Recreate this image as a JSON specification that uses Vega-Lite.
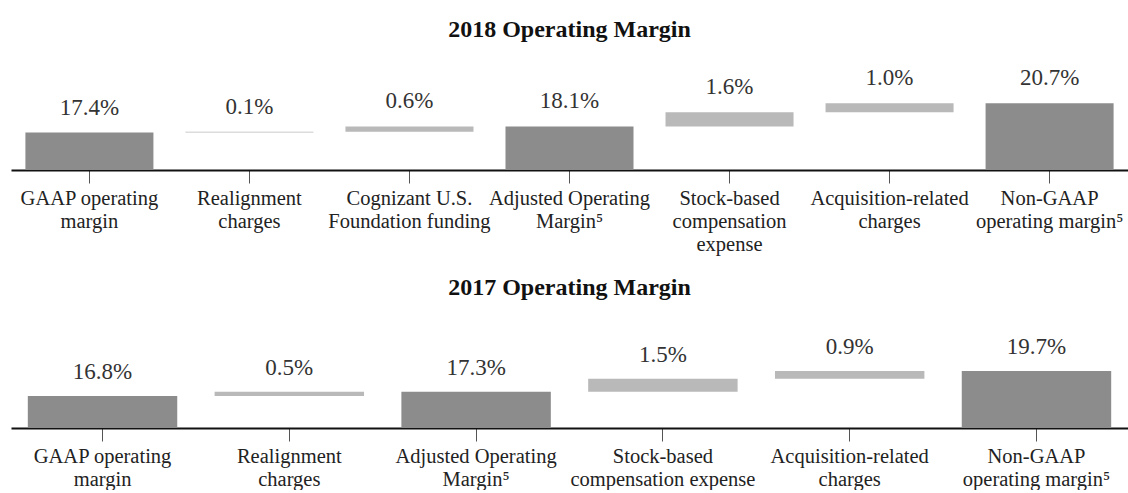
{
  "$schema": "https://vega.github.io/schema/vega-lite/v6.json",
  "padding": {"left": 11, "top": 18, "right": 0, "bottom": 0},
  "autosize": {"type": "pad"},
  "background": "white",
  "bounds": "flush",
  "spacing": 148,
  "config": {
    "view": {"stroke": null},
    "font": "Liberation Serif",
    "title": {"font": "Liberation Serif", "fontSize": 24, "fontWeight": "bold", "color": "#111", "anchor": "middle", "offset": 18},
    "axisX": {
      "title": null, "labelAngle": 0, "labelExpr": "split(datum.value, '|')",
      "labelFont": "Liberation Serif", "labelFontSize": 20.5, "labelLineHeight": 23,
      "labelColor": "#222", "labelPadding": 5, "labelLimit": 0,
      "tickSize": 13, "tickColor": "#555", "tickWidth": 1,
      "domainColor": "#111", "domainWidth": 2, "grid": false
    }
  },
  "datasets": {
    "y2018": [
      {"cat": "GAAP operating|margin", "start": 0, "end": 17.4, "lab": "17.4%", "kind": "total"},
      {"cat": "Realignment|charges", "start": 17.4, "end": 17.5, "lab": "0.1%", "kind": "change"},
      {"cat": "Cognizant U.S.|Foundation funding", "start": 17.5, "end": 18.1, "lab": "0.6%", "kind": "change"},
      {"cat": "Adjusted Operating|Margin⁵", "start": 0, "end": 18.1, "lab": "18.1%", "kind": "total"},
      {"cat": "Stock-based|compensation|expense", "start": 18.1, "end": 19.7, "lab": "1.6%", "kind": "change"},
      {"cat": "Acquisition-related|charges", "start": 19.7, "end": 20.7, "lab": "1.0%", "kind": "change"},
      {"cat": "Non-GAAP|operating margin⁵", "start": 0, "end": 20.7, "lab": "20.7%", "kind": "total"}
    ],
    "y2017": [
      {"cat": "GAAP operating|margin", "start": 0, "end": 16.8, "lab": "16.8%", "kind": "total"},
      {"cat": "Realignment|charges", "start": 16.8, "end": 17.3, "lab": "0.5%", "kind": "change"},
      {"cat": "Adjusted Operating|Margin⁵", "start": 0, "end": 17.3, "lab": "17.3%", "kind": "total"},
      {"cat": "Stock-based|compensation expense", "start": 17.3, "end": 18.8, "lab": "1.5%", "kind": "change"},
      {"cat": "Acquisition-related|charges", "start": 18.8, "end": 19.7, "lab": "0.9%", "kind": "change"},
      {"cat": "Non-GAAP|operating margin⁵", "start": 0, "end": 19.7, "lab": "19.7%", "kind": "total"}
    ]
  },
  "vconcat": [
    {
      "title": "2018 Operating Margin",
      "width": 1117, "height": 110,
      "data": {"name": "y2018"},
      "encoding": {
        "x": {"field": "cat", "type": "nominal", "sort": null, "scale": {"paddingInner": 0.2, "paddingOuter": 0.09}}
      },
      "layer": [
        {
          "mark": {"type": "bar", "clip": true},
          "encoding": {
            "y": {"field": "end", "type": "quantitative", "scale": {"domain": [13.2, 25.56], "zero": false, "nice": false}, "axis": null},
            "y2": {"field": "start"},
            "color": {"field": "kind", "type": "nominal", "scale": {"domain": ["total", "change"], "range": ["#8c8c8c", "#b9b9b9"]}, "legend": null}
          }
        },
        {
          "mark": {"type": "text", "dy": -25, "fontSize": 23, "color": "#333", "baseline": "middle", "font": "Times New Roman, Liberation Serif, serif", "fontWeight": "normal"},
          "encoding": {
            "y": {"field": "end", "type": "quantitative"},
            "text": {"field": "lab"}
          }
        }
      ]
    },
    {
      "title": "2017 Operating Margin",
      "width": 1117, "height": 110,
      "data": {"name": "y2017"},
      "encoding": {
        "x": {"field": "cat", "type": "nominal", "sort": null, "scale": {"paddingInner": 0.2, "paddingOuter": 0.09}}
      },
      "layer": [
        {
          "mark": {"type": "bar", "clip": true},
          "encoding": {
            "y": {"field": "end", "type": "quantitative", "scale": {"domain": [13.1, 25.86], "zero": false, "nice": false}, "axis": null},
            "y2": {"field": "start"},
            "color": {"field": "kind", "type": "nominal", "scale": {"domain": ["total", "change"], "range": ["#8c8c8c", "#b9b9b9"]}, "legend": null}
          }
        },
        {
          "mark": {"type": "text", "dy": -24, "fontSize": 23, "color": "#333", "baseline": "middle", "font": "Times New Roman, Liberation Serif, serif", "fontWeight": "normal"},
          "encoding": {
            "y": {"field": "end", "type": "quantitative"},
            "text": {"field": "lab"}
          }
        }
      ]
    }
  ]
}
